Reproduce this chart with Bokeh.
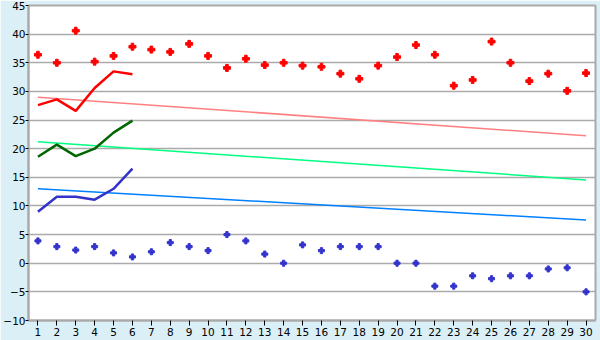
from bokeh.plotting import figure
from bokeh.models import Range1d, FixedTicker
from bokeh.embed import file_html
from bokeh.resources import INLINE

days = list(range(1, 31))
high_pts = [36.4, 35.0, 40.6, 35.2, 36.2, 37.8, 37.3, 36.9, 38.3, 36.2,
            34.1, 35.7, 34.6, 35.0, 34.5, 34.3, 33.1, 32.2, 34.5, 36.0,
            38.1, 36.4, 31.0, 32.0, 38.7, 35.0, 31.8, 33.1, 30.1, 33.2]
low_pts = [3.9, 2.9, 2.3, 2.9, 1.8, 1.1, 2.0, 3.6, 2.9, 2.2,
           5.0, 3.9, 1.6, 0.0, 3.2, 2.2, 2.9, 2.9, 2.9, 0.0,
           0.0, -4.0, -4.0, -2.2, -2.7, -2.2, -2.2, -1.0, -0.8, -5.0]
obs_days = [1, 2, 3, 4, 5, 6]
obs_high = [27.6, 28.6, 26.6, 30.6, 33.5, 33.0]
obs_mean = [18.6, 20.7, 18.7, 20.0, 22.8, 24.9]
obs_low = [9.0, 11.6, 11.6, 11.1, 13.0, 16.5]
trend_days = [1, 30]
trend_high = [29.0, 22.25]
trend_mean = [21.2, 14.55]
trend_low = [13.0, 7.55]
y_ticks = list(range(-10, 50, 5))

p = figure(width=600, height=340, output_backend="svg", toolbar_location=None,
           x_range=Range1d(0.5, 30.5), y_range=Range1d(-10, 45),
           min_border_left=26, min_border_right=5, min_border_top=5, min_border_bottom=20)
p.background_fill_color = "white"
p.border_fill_color = "#daeff6"
p.outline_line_color = "#aaaaaa"
p.outline_line_width = 2

p.xgrid.grid_line_color = None
p.ygrid.grid_line_color = "#aaaaaa"
p.ygrid.grid_line_width = 1.5

p.xaxis.ticker = FixedTicker(ticks=days)
p.yaxis.ticker = FixedTicker(ticks=y_ticks)
for ax in (p.xaxis[0], p.yaxis[0]):
    ax.axis_line_color = "#aaaaaa"
    ax.axis_line_width = 2
    ax.major_tick_line_color = "black"
    ax.minor_tick_line_color = None
    ax.major_tick_in = 0
    ax.major_label_text_font = "DejaVu Sans"
    ax.major_label_text_font_size = "10.5px"
    ax.major_label_text_color = "black"
p.xaxis.major_tick_out = 5
p.xaxis.major_label_standoff = 2
p.yaxis.major_tick_out = 3
p.yaxis.major_label_standoff = 0

p.line(trend_days, trend_high, line_color="#ff8080", line_width=1.5)
p.line(trend_days, trend_mean, line_color="#00ff80", line_width=1.5)
p.line(trend_days, trend_low, line_color="#0080ff", line_width=1.5)

p.line(obs_days, obs_high, line_color="#ff0000", line_width=2.5)
p.line(obs_days, obs_mean, line_color="#006600", line_width=2.5)
p.line(obs_days, obs_low, line_color="#3333cc", line_width=2.5)

p.scatter(days, high_pts, marker="plus", size=7, fill_color="#ff0000", line_color="#ff0000")
p.scatter(days, low_pts, marker="plus", size=6, fill_color="#3333cc", line_color="#3333cc")

open("out.html", "w").write(file_html(p, INLINE))
